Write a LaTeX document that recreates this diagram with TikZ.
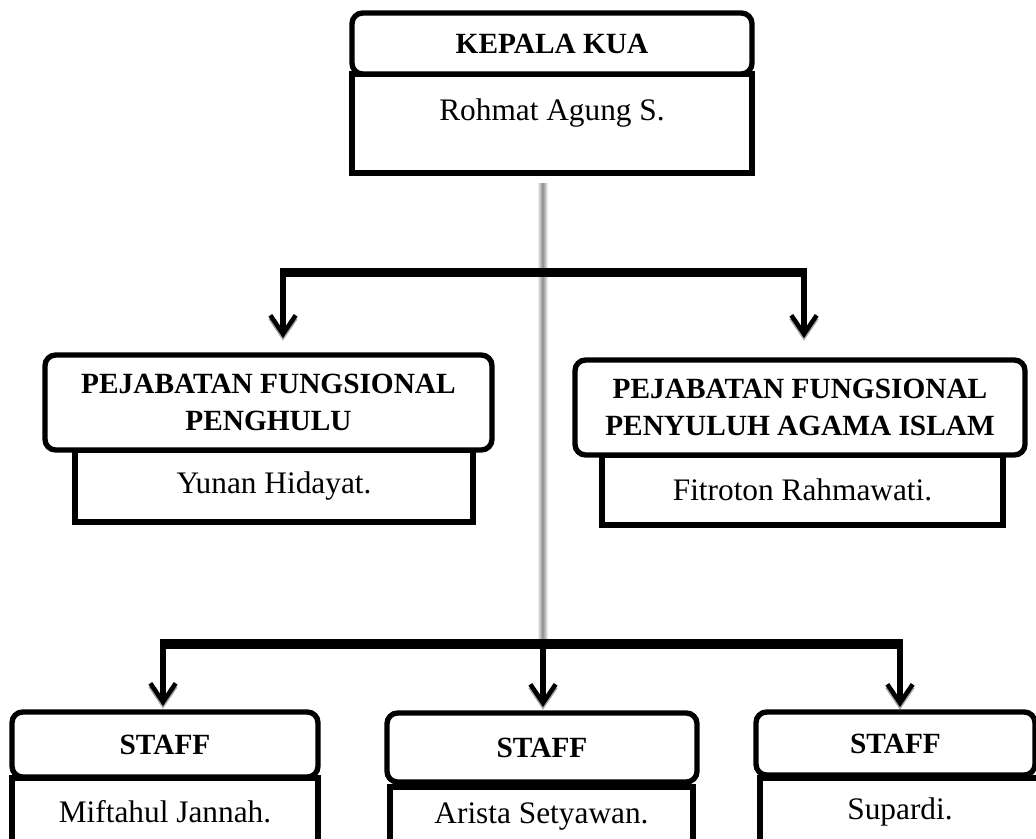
\documentclass[tikz,border=0pt]{standalone}
\usepackage{fontspec}
\setmainfont{Liberation Serif}
\usetikzlibrary{arrows.meta}
\tikzset{
  hdr/.style={draw, line width=4pt, rounded corners=8pt, fill=white,
    font=\bfseries\fontsize{22}{27.75}\selectfont, align=center, inner sep=0pt},
  bodybox/.style={draw, line width=4pt, fill=white,
    font=\fontsize{23.5}{28}\selectfont, align=center, inner sep=0pt},
  barline/.style={line width=7pt},
  arr/.style={line width=4pt, -{Straight Barb[length=14pt,width=19pt,line width=3.4pt]}},
  arrshadow/.style={arr, draw=black!35},
}
\begin{document}
\begin{tikzpicture}[x=0.75pt,y=-0.75pt]
\useasboundingbox (0,0) rectangle (1036,839);
\clip (0,0) rectangle (1036,839);

% grey vertical shadow line
\shade[left color=white, right color=white, middle color=black!45] (537,183) rectangle (548,640);

% connector coordinates
\coordinate (b1l) at (280,272.5);
\coordinate (b1r) at (807,272.5);
\coordinate (j1l) at (283,271);
\coordinate (j1r) at (804,271);
\coordinate (t1l) at (283,338);
\coordinate (t1r) at (804,338);

\coordinate (b2l) at (160,644);
\coordinate (b2r) at (903,644);
\coordinate (j2a) at (163,642);
\coordinate (j2b) at (543,642);
\coordinate (j2c) at (900,642);
\coordinate (t2a) at (163,706);
\coordinate (t2b) at (543,707);
\coordinate (t2c) at (900,707);

% arrow shadows
\foreach \a/\b in {j1l/t1l, j1r/t1r, j2a/t2a, j2b/t2b, j2c/t2c}{
  \draw[arrshadow] ([yshift=-2pt]\a) -- ([yshift=-2pt]\b);
}
% arrows
\foreach \a/\b in {j1l/t1l, j1r/t1r, j2a/t2a, j2b/t2b, j2c/t2c}{
  \draw[arr] (\a) -- (\b);
}
% bars
\draw[barline] (b1l) -- (b1r);
\draw[barline] (b2l) -- (b2r);

% top box
\node[bodybox, minimum width=300pt, minimum height=74.25pt, text height=16pt, text depth=21.25pt] (kb) at (552,123.5) {Rohmat Agung S.};
\node[hdr, minimum width=300pt, minimum height=45.75pt] (kh) at (552,43.5) {KEPALA KUA};

% penghulu
\node[bodybox, minimum width=298.5pt, minimum height=54pt] (pb) at (274,486) {Yunan Hidayat.};
\node[hdr, minimum width=335.25pt, minimum height=71.25pt] (ph) at (268.5,402.5) {PEJABATAN FUNGSIONAL\\PENGHULU};

% penyuluh
\node[bodybox, minimum width=300.75pt, minimum height=52.5pt] (sb) at (802.5,490) {Fitroton Rahmawati.};
\node[hdr, minimum width=337.5pt, minimum height=71.25pt] (sh) at (800,407.5) {PEJABATAN FUNGSIONAL\\PENYULUH AGAMA ISLAM};

% staff
\node[bodybox, minimum width=229.5pt, minimum height=50.25pt] (s1b) at (165,811.5) {Miftahul Jannah.};
\node[hdr, minimum width=229.5pt, minimum height=48.75pt] (s1h) at (165,744.5) {STAFF};

\node[bodybox, minimum width=227.25pt, minimum height=43.5pt] (s2b) at (541.5,816) {Arista Setyawan.};
\node[hdr, minimum width=232.5pt, minimum height=51.75pt] (s2h) at (542,747.5) {STAFF};

\node[bodybox, minimum width=210pt, minimum height=50.25pt] (s3b) at (900,811.5) {Supardi.};
\node[hdr, minimum width=209.25pt, minimum height=47.25pt] (s3h) at (895.5,743.5) {STAFF};
\end{tikzpicture}
\end{document}
